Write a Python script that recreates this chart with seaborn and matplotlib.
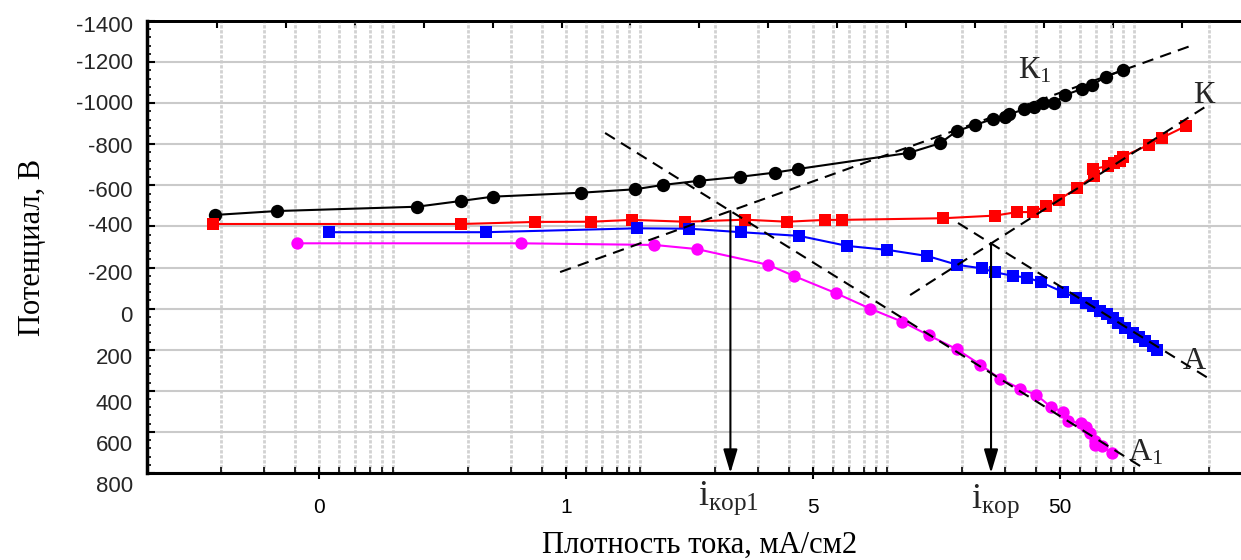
import numpy as np
import matplotlib
matplotlib.use("Agg")
import matplotlib.pyplot as plt
import matplotlib.ticker as mticker
from matplotlib.transforms import ScaledTranslation, blended_transform_factory
import seaborn as sns

# ---------------- data (current density, potential) ----------------
k1_current = [0.0379, 0.0674, 0.2486, 0.3747, 0.505, 1.145, 1.903, 2.463, 3.44, 5.08,
              6.99, 8.72, 24.4, 32.68, 38.18, 45.28, 53.4, 59.88, 62.16, 71.5,
              78.7, 84.94, 94.56, 104.76, 122.4, 135.1, 153.1, 180.4]
k1_potential = [-456, -475, -496, -524, -545, -564, -581, -602, -622, -642,
                -662, -680, -758, -805, -865, -894, -923, -934, -946, -970,
                -980, -1003, -999, -1040, -1069, -1089, -1129, -1162]

k_current = [0.0373, 0.3769, 0.749, 1.262, 1.842, 3.041, 5.306, 7.87, 11.18, 13.05,
             33.7, 54.6, 67.0, 78.0, 87.4, 98.6, 117.2, 137.3, 136.4, 156.5,
             165.4, 174.2, 179.4, 229.3, 257.6, 323.7]
k_potential = [-412, -412, -422, -423, -432, -423, -433, -423, -432, -432,
               -440, -453, -470, -470, -501, -529, -587, -648, -680, -694,
               -707, -721, -740, -798, -831, -889]

a_current = [0.1101, 0.473, 1.945, 3.156, 5.11, 8.80, 13.77, 19.99, 29.03, 38.4,
             48.2, 54.6, 64.7, 73.7, 83.8, 103.1, 116.1, 127.4, 135.6, 145.2,
             154.5, 163.4, 172.2, 183.3, 198.1, 209.5, 220.9, 237.3, 247.7]
a_potential = [-372, -372, -391, -389, -372, -354, -305, -286, -256, -213,
               -196, -177, -159, -151, -128, -80, -53, -29, -13, 10,
               26, 44, 68, 96, 120, 137, 156, 180, 201]

a1_current = [0.0812, 0.6556, 2.278, 3.381, 6.59, 8.40, 12.39, 17.02, 22.97, 29.41,
              38.1, 47.6, 57.2, 69.1, 80.2, 91.9, 102.8, 107.5, 121.1, 127.8,
              131.9, 137.9, 138.6, 148.2, 161.9]
a1_potential = [-318, -318, -310, -290, -213, -158, -75, 0, 64, 130,
                197, 273, 342, 390, 420, 479, 502, 547, 557, 576,
                603, 643, 664, 671, 704]

# Tafel tangent lines (two end points each)
a1_tangent_current = [1.438, 216.8]
a1_tangent_potential = [-855, 775]
k1_tangent_current = [0.9456, 345.5]
k1_tangent_potential = [-178, -1283]
k_tangent_current = [24.7, 397.4]
k_tangent_potential = [-66, -991]
a_tangent_current = [38.6, 397.4]
a_tangent_potential = [-417, 338]

x_tick_values = [0.1, 1, 10, 100]
x_tick_labels = ["0", "1", "5", "50"]
y_tick_values = list(range(-1400, 801, 200))
y_tick_labels = [str(v) for v in y_tick_values]

# ---------------- style ----------------
sns.set_theme(style="white")
plt.rcParams["font.family"] = ["Liberation Sans", "DejaVu Sans"]
plt.rcParams["mathtext.fontset"] = "custom"
plt.rcParams["mathtext.rm"] = "Liberation Serif"
plt.rcParams["mathtext.it"] = "Liberation Serif:italic"
plt.rcParams["mathtext.default"] = "rm"
SERIF = ["Liberation Serif", "DejaVu Serif"]

fig = plt.figure(figsize=(12.41, 5.6), dpi=100)
ax = fig.add_axes([147 / 1241, 87 / 560, 1094 / 1241, 452 / 560])
ax.set_xscale("log")
ax.set_xlim(0.0201, 540)
ax.set_ylim(800, -1400)

# grid
ax.xaxis.set_major_locator(mticker.FixedLocator(x_tick_values))
ax.xaxis.set_major_formatter(mticker.FixedFormatter(x_tick_labels))
ax.xaxis.set_minor_locator(mticker.LogLocator(base=10, subs=[1.2, 1.4, 1.6, 1.8, 2, 4, 6, 8], numticks=30))
ax.xaxis.set_minor_formatter(mticker.NullFormatter())
ax.yaxis.set_major_locator(mticker.FixedLocator(y_tick_values))
ax.yaxis.set_minor_locator(mticker.AutoMinorLocator(5))
ax.yaxis.set_major_formatter(mticker.NullFormatter())
ax.set_axisbelow(True)
ax.yaxis.grid(True, which="major", color="#cacaca", lw=1.5, ls="-")
ax.xaxis.grid(True, which="both", color="#d2d2d2", lw=2.0, ls=(0, (1.2, 0.6)))

# data series
series = [
    (k1_current, k1_potential, "black", "o", 9.6),
    (k_current, k_potential, "#ff0000", "s", 8.0),
    (a_current, a_potential, "#0000ff", "s", 8.0),
    (a1_current, a1_potential, "#ff00ff", "o", 8.9),
]
for xs, ys, col, mk, ms in series:
    sns.lineplot(x=xs, y=ys, ax=ax, color=col, marker=mk, markersize=ms,
                 markeredgewidth=0, markeredgecolor=col, linewidth=1.5,
                 sort=False, estimator=None, zorder=3)

# tangents
tangents = [
    (a1_tangent_current, a1_tangent_potential),
    (k1_tangent_current, k1_tangent_potential),
    (k_tangent_current, k_tangent_potential),
    (a_tangent_current, a_tangent_potential),
]
for xs, ys in tangents:
    sns.lineplot(x=xs, y=ys, ax=ax, color="black", linewidth=1.5,
                 linestyle=(0, (5.5, 3.5)), sort=False, estimator=None, zorder=4)


def line_coef(xs, ys):
    u = np.log10(xs)
    m = (ys[1] - ys[0]) / (u[1] - u[0])
    return m, ys[0] - m * u[0]


def intersect(t1, t2):
    m1, b1 = line_coef(*t1)
    m2, b2 = line_coef(*t2)
    u = (b2 - b1) / (m1 - m2)
    return 10 ** u, m1 * u + b1


icor1 = intersect(tangents[0], tangents[1])
icor = intersect(tangents[2], tangents[3])

for (xi, yi), lab, dx, dy in [(icor1, r"$\mathrm{i_{кор1}}$", -23, -23),
                               (icor, r"$\mathrm{i_{кор}}$", -14.5, -25)]:
    ax.annotate("", xy=(xi, 800), xytext=(xi, yi),
                arrowprops=dict(arrowstyle="-|>,head_length=0.8,head_width=0.24",
                                mutation_scale=18, color="black", lw=1.5,
                                shrinkA=0, shrinkB=0), zorder=5, annotation_clip=False)
    ax.annotate(lab, xy=(xi, 800), xytext=(dx, dy), textcoords="offset points",
                ha="left", va="baseline", fontsize=26, annotation_clip=False)

# curve labels
ax.text(67.6, -1122, "К$_{1}$", fontsize=23, family=SERIF, ha="left", va="baseline")
ax.text(347, -1001, "К", fontsize=23, family=SERIF, ha="left", va="baseline")
ax.text(315, 294, "А", fontsize=23, family=SERIF, ha="left", va="baseline")
ax.text(188, 737, "А$_{1}$", fontsize=23, family=SERIF, ha="left", va="baseline", clip_on=False)

# y tick labels (slightly shifted as in the original)
label_shift_px = [5, 1.5, 1.7, 3, 6.5, 0, 7, 7.7, 8.3, 13.7, 13.2, 14]
ytrans = blended_transform_factory(ax.transAxes, ax.transData)
for v, lab, sh in zip(y_tick_values, y_tick_labels, label_shift_px):
    ax.text(-0.0128, v, lab, fontsize=16, ha="right", va="center", clip_on=False,
            transform=ytrans + ScaledTranslation(0, -sh / 100, fig.dpi_scale_trans))

# ticks & spines
ax.tick_params(axis="x", which="major", direction="inout", length=8, width=1.5,
               labelsize=15, pad=14, colors="black", bottom=True, top=False)
ax.tick_params(axis="x", which="minor", direction="in", length=4, width=1.2,
               bottom=True, top=False, colors="black")
ax.tick_params(axis="y", which="major", direction="in", length=6, width=1.5,
               left=True, right=False, colors="black")
ax.tick_params(axis="y", which="minor", direction="in", length=3, width=1.2,
               left=True, right=False, colors="black")

top_ticks = np.logspace(-1.414, -1.414 + 14 * 0.2791, 15)
sec = ax.secondary_xaxis("top")
sec.set_xticks(top_ticks)
sec.xaxis.set_minor_locator(mticker.NullLocator())
sec.set_xticklabels([])
sec.tick_params(axis="x", which="major", direction="in", length=5, width=1.5, colors="black")
sec.spines["top"].set_linewidth(2)
sec.spines["top"].set_color("black")

ax.spines["right"].set_visible(False)
ax.spines["left"].set_linewidth(2.5)
ax.spines["bottom"].set_linewidth(2.2)
ax.spines["top"].set_linewidth(2)
for s in ["left", "bottom", "top"]:
    ax.spines[s].set_color("black")

ax.set_xlabel("Плотность тока, мА/см2", fontsize=22, family=SERIF, color="black")
ax.set_ylabel("Потенциал, В", fontsize=22, family=SERIF, color="black")
ax.xaxis.set_label_coords(0.5055, -0.128)
ax.xaxis.label.set_va("top")
ax.yaxis.set_label_coords(-0.091, 0.5)

fig.savefig("out.png", dpi=100)
